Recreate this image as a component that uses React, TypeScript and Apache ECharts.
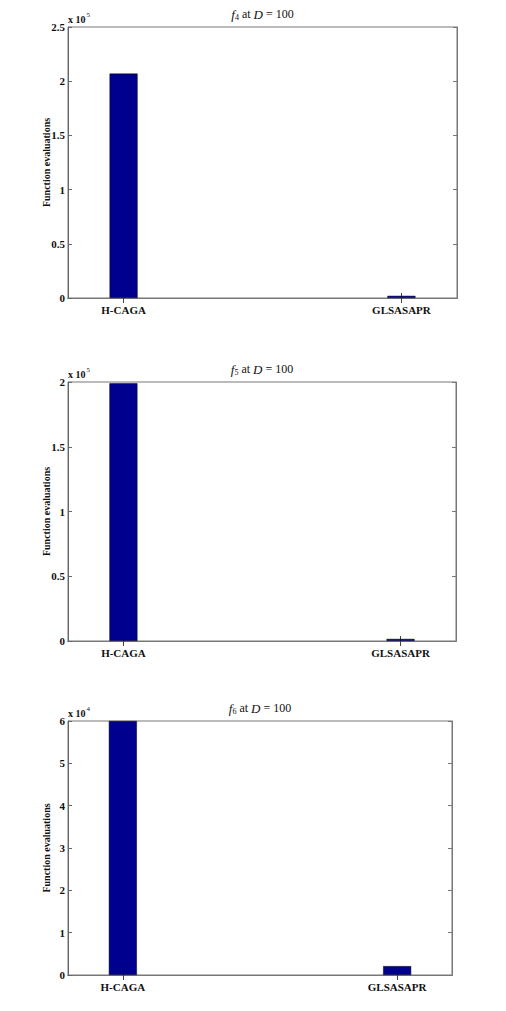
import React, { useEffect, useRef } from "react";
import * as echarts from "echarts";

const categories = ["H-CAGA", "GLSASAPR"];
const catPos = [1, 2];
const f4Values = [207000, 2000];
const f5Values = [199000, 1600];
const f6Values = [60000, 2100];
const subscripts = ["4", "5", "6"];
const yMaxes = [250000, 200000, 60000];
const yIntervals = [50000, 50000, 10000];
const exponents = [5, 5, 4];

const grids = [
  { left: 68, top: 27, width: 389, height: 271 },
  { left: 68, top: 382, width: 388, height: 259 },
  { left: 68, top: 721, width: 384, height: 254 },
];

const SERIF = "'Liberation Serif', 'DejaVu Serif', serif";

export default function App() {
  const ref = useRef<HTMLDivElement>(null);
  useEffect(() => {
    document.body.style.margin = "0";
    const chart = echarts.init(ref.current!, null, { renderer: "svg" });
    const allValues = [f4Values, f5Values, f6Values];
    const xAxes: any[] = [];
    const yAxes: any[] = [];
    const series: any[] = [];
    const graphics: any[] = [];
    grids.forEach((g, i) => {
      const tickCommon = { show: true, inside: true, length: 5, lineStyle: { color: "#444" }, customValues: catPos };
      xAxes.push({
        type: "value", gridIndex: i, min: 0.8, max: 2.2, position: "bottom",
        axisLine: { show: true, lineStyle: { color: "#333" } },
        axisTick: tickCommon,
        splitLine: { show: false },
        axisLabel: {
          customValues: catPos, margin: 6,
          fontFamily: SERIF, fontWeight: "bold", fontSize: 11, color: "#111",
          formatter: (v: number) => (Math.abs(v - 1) < 0.01 ? categories[0] : categories[1]),
        },
      });
      xAxes.push({
        type: "value", gridIndex: i, min: 0.8, max: 2.2, position: "top",
        axisLine: { show: true, lineStyle: { color: "#777" } },
        axisTick: tickCommon,
        splitLine: { show: false },
        axisLabel: { show: false },
      });
      const div = Math.pow(10, exponents[i]);
      yAxes.push({
        type: "value", gridIndex: i, min: 0, max: yMaxes[i], interval: yIntervals[i], position: "left",
        axisLine: { show: true, lineStyle: { color: "#666" } },
        axisTick: { show: true, inside: true, length: 4, lineStyle: { color: "#666" } },
        splitLine: { show: false },
        axisLabel: {
          margin: 3, fontFamily: SERIF, fontWeight: "bold", fontSize: 11, color: "#111",
          formatter: (v: number) => String(Math.round((v / div) * 100) / 100),
        },
        name: "Function evaluations", nameLocation: "middle", nameGap: 17, nameMoveOverlap: false,
        nameTextStyle: { fontFamily: SERIF, fontWeight: "bold", fontSize: 10, color: "#111" },
      });
      yAxes.push({
        type: "value", gridIndex: i, min: 0, max: yMaxes[i], interval: yIntervals[i], position: "right",
        axisLine: { show: true, lineStyle: { color: "#777" } },
        axisTick: { show: true, inside: true, length: 4, lineStyle: { color: "#777" } },
        splitLine: { show: false },
        axisLabel: { show: false },
      });
      series.push({
        type: "bar", xAxisIndex: i * 2, yAxisIndex: i * 2, barWidth: 28,
        data: catPos.map((x, j) => [x, allValues[i][j]]),
        itemStyle: { color: "#00008F", borderColor: "#000", borderWidth: 0.5 },
      });
      graphics.push({
        type: "text", x: g.left + g.width / 2, y: g.top - 13,
        style: {
          text: `{i|f}{sub|${subscripts[i]}}{n| at }{i|D}{n| = 100}`,
          textAlign: "center", textVerticalAlign: "middle", fill: "#111",
          rich: {
            i: { fontFamily: SERIF, fontStyle: "italic", fontSize: 13, fill: "#111" },
            sub: { fontFamily: SERIF, fontSize: 8, padding: [7, 0, 0, 0], fill: "#111" },
            n: { fontFamily: SERIF, fontSize: 12, fill: "#111" },
          },
        },
      });
      graphics.push({
        type: "text", x: g.left, y: g.top - 8,
        style: {
          text: `{b|x 10}{s|${exponents[i]}}`,
          textAlign: "left", textVerticalAlign: "middle", fill: "#111",
          rich: {
            b: { fontFamily: SERIF, fontSize: 10, fontWeight: "bold", fill: "#111" },
            s: { fontFamily: SERIF, fontSize: 7, padding: [0, 0, 8, 1], fill: "#111" },
          },
        },
      });
    });
    chart.setOption({
      animation: false,
      backgroundColor: "#fff",
      grid: grids.map((g) => ({ ...g, show: true, borderColor: "#777", borderWidth: 1, backgroundColor: "#fff" })),
      xAxis: xAxes,
      yAxis: yAxes,
      series,
      graphic: graphics,
    });
    return () => chart.dispose();
  }, []);
  return <div ref={ref} style={{ width: 506, height: 1011 }} />;
}
